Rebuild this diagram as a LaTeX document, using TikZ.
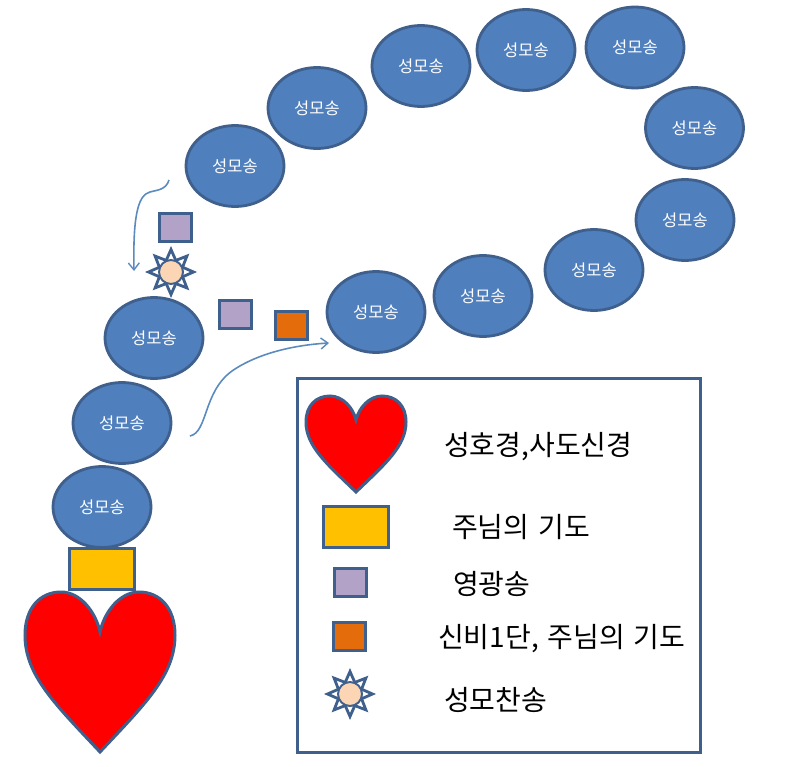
\documentclass[tikz,border=0pt]{standalone}
\usepackage{fontspec}
\setmainfont[WordSpace=1.4]{Noto Sans CJK KR}
\usetikzlibrary{arrows.meta,shapes.geometric}
\definecolor{edgeblue}{HTML}{3F5F8C}
\definecolor{beadblue}{HTML}{4F7FBC}
\definecolor{arrowblue}{HTML}{5B8BBE}
\definecolor{glorypurple}{HTML}{B3A2C7}
\definecolor{mysteryorange}{HTML}{E46C0A}
\definecolor{prayeryellow}{HTML}{FFC000}
\definecolor{sunpeach}{HTML}{FCD5B5}
\tikzset{
  bead/.style={ellipse,draw=edgeblue,line width=2.8pt,fill=beadblue,minimum width=98pt,minimum height=81pt,inner sep=0pt,text=white,font=\fontsize{16.5}{16.5}\selectfont},
  box/.style={rectangle,draw=edgeblue,line width=3pt,inner sep=0pt},
  glorybox/.style={box,fill=glorypurple,minimum width=32pt,minimum height=28pt},
  mysterybox/.style={box,fill=mysteryorange,minimum width=32pt,minimum height=28pt},
  lordbox/.style={box,fill=prayeryellow,minimum width=65pt,minimum height=41pt},
  legendtext/.style={anchor=west,inner sep=0pt,font=\fontsize{28}{28}\selectfont,text=black},
  flow/.style={draw=arrowblue,line width=1.6pt,-{Straight Barb[length=7pt,width=11pt,line width=1.4pt]}},
  heartline/.style={draw=edgeblue,line width=3pt,fill=red,line join=miter}
}
\newcommand{\heartshape}[4]{% centre x, top y, half width, height
  \path[heartline] (#1,#2+#4) .. controls (#1+0.6*#3,#2+0.7*#4) and (#1+#3,#2+0.52*#4) .. (#1+#3,#2+0.27*#4)
    .. controls (#1+#3,#2+0.1*#4) and (#1+0.8*#3,#2) .. (#1+0.52*#3,#2)
    .. controls (#1+0.27*#3,#2) and (#1+0.06*#3,#2+0.12*#4) .. (#1,#2+0.25*#4)
    .. controls (#1-0.06*#3,#2+0.12*#4) and (#1-0.27*#3,#2) .. (#1-0.52*#3,#2)
    .. controls (#1-0.8*#3,#2) and (#1-#3,#2+0.1*#4) .. (#1-#3,#2+0.27*#4)
    .. controls (#1-#3,#2+0.52*#4) and (#1-0.6*#3,#2+0.7*#4) .. (#1,#2+#4) -- cycle;
}
\newcommand{\sunshape}[2]{%
  \begin{scope}[shift={(#1,#2)}]
    \foreach \a in {0,45,...,315}{
      \draw[edgeblue,line width=2.8pt,fill=white,line join=miter,rotate=\a] (10,-5.5) -- (22.5,0) -- (10,5.5) -- cycle;
    }
    \fill[edgeblue] (0,0) circle[radius=13];
    \draw[edgeblue,line width=1pt,fill=sunpeach] (0,0) circle[radius=11.5];
  \end{scope}
}
\begin{document}
\begin{tikzpicture}[x=1pt,y=-1pt]
\useasboundingbox (0,0) rectangle (800,767);
% beads
\node[bead] (b1) at (235,166) {\raisebox{-1pt}{성모송}};
\node[bead] (b2) at (317,108) {\raisebox{-1pt}{성모송}};
\node[bead] (b3) at (421,66) {\raisebox{-1pt}{성모송}};
\node[bead] (b4) at (526,50) {\raisebox{-1pt}{성모송}};
\node[bead] (b5) at (635,47.5) {\raisebox{-1pt}{성모송}};
\node[bead] (b6) at (694.5,128) {\raisebox{-1pt}{성모송}};
\node[bead] (b7) at (685,220) {\raisebox{-1pt}{성모송}};
\node[bead] (b8) at (594,270) {\raisebox{-1pt}{성모송}};
\node[bead] (b9) at (483,296) {\raisebox{-1pt}{성모송}};
\node[bead] (b10) at (376,312) {\raisebox{-1pt}{성모송}};
\node[bead] (b11) at (154,338) {\raisebox{-1pt}{성모송}};
\node[bead] (b12) at (122,423) {\raisebox{-1pt}{성모송}};
\node[bead] (b13) at (102,507) {\raisebox{-1pt}{성모송}};
% chain
\heartshape{100}{592}{75}{160}
\node[lordbox] (lord) at (101.5,569) {};
\node[glorybox] (g1) at (175.5,228) {};
\node[glorybox] (g2) at (235,314) {};
\node[mysterybox] (m1) at (291,325.5) {};
\sunshape{171}{272}
% arrows
\coordinate (a1s) at (169,180);
\coordinate (a1e) at (134,271);
\coordinate (a2s) at (190,436);
\coordinate (a2e) at (329,343);
\draw[flow] (a1s) .. controls (166,190) and (157,190) .. (150,192)
   .. controls (137,195) and (133,220) .. (a1e);
\draw[flow] (a2s) .. controls (208,432) and (203,392) .. (232,371)
   .. controls (258,353) and (295,345) .. (a2e);
% legend
\node[rectangle,draw=edgeblue,line width=3pt,minimum width=403pt,minimum height=374pt,inner sep=0pt] (legend) at (499,565.5) {};
\heartshape{356}{396}{50}{96}
\node[lordbox] (lkey) at (355.5,526.5) {};
\node[glorybox] (gkey) at (350.5,582.5) {};
\node[mysterybox] (mkey) at (349,636) {};
\sunshape{350}{694}
\node[legendtext] (t1) at (444,447) {성호경,사도신경};
\node[legendtext] (t2) at (452,527) {주님의 기도};
\node[legendtext] (t3) at (453,584) {영광송};
\node[legendtext] (t4) at (438,639) {신비1단, 주님의 기도};
\node[legendtext] (t5) at (444,700) {성모찬송};
\end{tikzpicture}
\end{document}
